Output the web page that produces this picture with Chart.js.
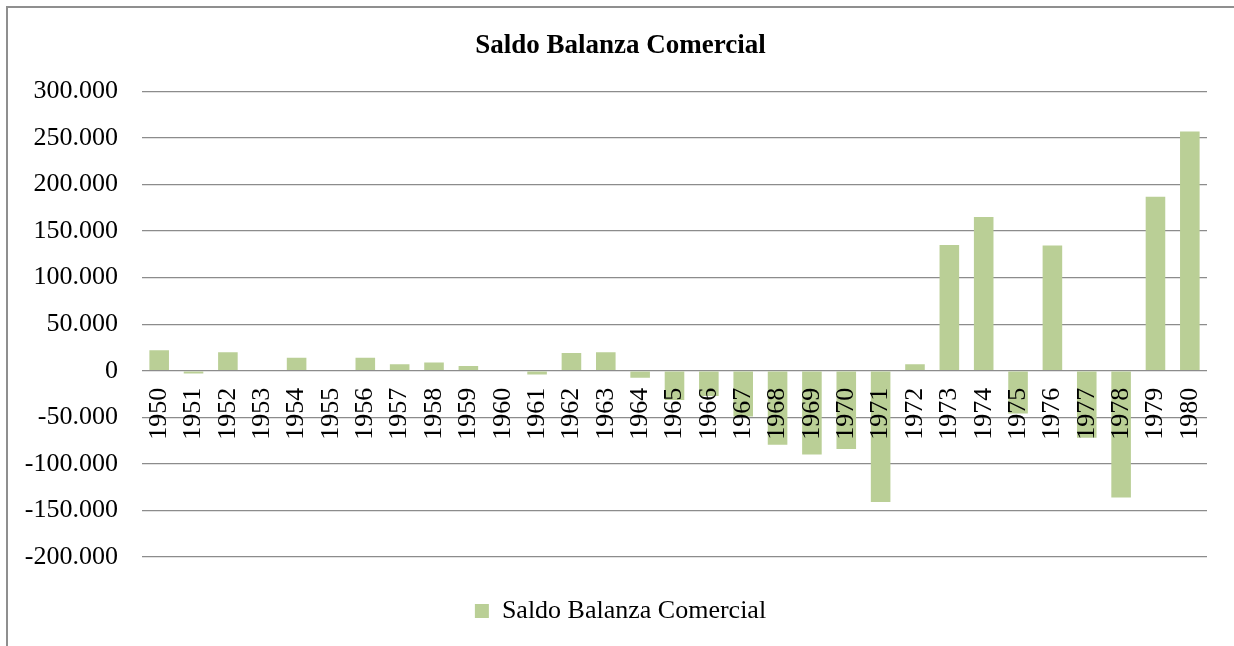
<!DOCTYPE html>
<html>
<head>
<meta charset="utf-8">
<script src="https://cdn.jsdelivr.net/npm/chart.js@4.4.1/dist/chart.umd.min.js"></script>
<style>
  html, body { margin: 0; padding: 0; background: #ffffff; }
  #wrap { position: relative; width: 1234px; height: 646px; overflow: hidden; }
  #frame { position: absolute; left: 6px; top: 6px; width: 1240px; height: 700px;
           border-left: 2px solid #8f8f8f; border-top: 2px solid #8f8f8f; box-sizing: border-box; }
  canvas { position: absolute; left: 0; top: 0; }
</style>
</head>
<body>
<div id="wrap">
  <div id="frame"></div>
  <canvas id="c" width="1234" height="646"></canvas>
</div>
<script>
const title = "Saldo Balanza Comercial";
const seriesName = "Saldo Balanza Comercial";
const years = ["1950","1951","1952","1953","1954","1955","1956","1957","1958","1959","1960",
               "1961","1962","1963","1964","1965","1966","1967","1968","1969","1970",
               "1971","1972","1973","1974","1975","1976","1977","1978","1979","1980"];
const saldo = [22000, -3000, 20000, 0, 14000, 0, 14000, 7000, 9000, 5000, 0,
               -4000, 19000, 20000, -7500, -31500, -27000, -49000, -79500, -90000, -84000,
               -141000, 7000, 135000, 165000, -46000, 134500, -72000, -136000, 187000, 257000];
const yMin = -200000, yMax = 300000, yStep = 50000;

function fmt(v) {
  if (v === 0) return "0";
  const s = Math.abs(Math.round(v)).toString().replace(/\B(?=(\d{3})+(?!\d))/g, ".");
  return (v < 0 ? "-" : "") + s;
}

const FONT = "'Liberation Serif', 'Times New Roman', serif";

new Chart(document.getElementById("c"), {
  type: "bar",
  data: {
    labels: years,
    datasets: [{
      label: seriesName,
      data: saldo,
      backgroundColor: "#BACF96",
      borderWidth: 0,
      barPercentage: 0.57,
      categoryPercentage: 1.0
    }]
  },
  options: {
    responsive: false,
    animation: false,
    layout: { padding: { left: 14, right: 7, top: 0, bottom: 12 } },
    scales: {
      x: {
        position: { y: 0 },
        afterFit: s => { s.paddingLeft = 0; s.paddingRight = 0; },
        grid: { display: false, drawTicks: false, tickLength: 0 },
        border: { display: false },
        ticks: {
          z: 1,
          autoSkip: false, maxRotation: 90, minRotation: 90,
          padding: 17, color: "#000000",
          font: { family: FONT, size: 26 }
        }
      },
      y: {
        min: yMin, max: yMax,
        afterFit: s => { s.width = 128; },
        grid: { color: "#8c8c8c", lineWidth: 1.3, drawTicks: false },
        border: { display: false },
        ticks: {
          stepSize: yStep, padding: 24, color: "#000000",
          font: { family: FONT, size: 26 },
          callback: v => fmt(v)
        }
      },
      yRight: {
        type: "linear",
        position: "right",
        afterFit: s => { s.width = 20; },
        grid: { display: false, drawTicks: false },
        border: { display: false },
        ticks: { display: false }
      }
    },
    plugins: {
      title: {
        display: true, text: title, color: "#000000",
        font: { family: FONT, size: 27, weight: "bold", lineHeight: 1.2 },
        padding: { top: 30, bottom: 29 }
      },
      legend: {
        position: "bottom",
        labels: {
          color: "#000000", boxWidth: 14, boxHeight: 14, padding: 41,
          font: { family: FONT, size: 26 }
        }
      },
      tooltip: { enabled: false }
    }
  }
});
</script>
</body>
</html>
